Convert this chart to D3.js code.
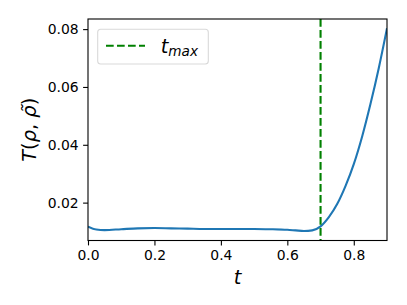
<!DOCTYPE html>
<html>
<head>
<meta charset="UTF-8">
<script src="https://d3js.org/d3.v7.min.js"></script>
<style>
  body { margin: 0; background: #fff; }
  svg { display: block; font-family: "DejaVu Sans", sans-serif; }
</style>
</head>
<body>
<svg width="407" height="305"></svg>
<script>
// values
var tValues = [0, 0.025, 0.05, 0.1, 0.15, 0.2, 0.25, 0.3, 0.35, 0.4, 0.45, 0.5, 0.55, 0.6, 0.625, 0.65, 0.675, 0.7, 0.725, 0.75, 0.775, 0.8, 0.825, 0.85, 0.875, 0.9];
var tScore = [0.0117, 0.0107, 0.0105, 0.0108, 0.0111, 0.0112, 0.0111, 0.0110, 0.0109, 0.0109, 0.0109, 0.0109, 0.0108, 0.0106, 0.0104, 0.0102, 0.0104, 0.0118, 0.0150, 0.0195, 0.0257, 0.0333, 0.0428, 0.0540, 0.0664, 0.0803];
var tMax = 0.7;
var xTicks = [0, 0.2, 0.4, 0.6, 0.8];
var yTicks = [0.02, 0.04, 0.06, 0.08];

var margin = {top: 19, right: 20, bottom: 64.5, left: 88};
var width = 407, height = 305;
var w = width - margin.left - margin.right;
var h = height - margin.top - margin.bottom;

var svg = d3.select("svg");
var g = svg.append("g").attr("transform", "translate(" + margin.left + "," + margin.top + ")");

var x = d3.scaleLinear().domain([0, 0.9]).range([0, w]);
var y = d3.scaleLinear().domain([0.0069, 0.0835]).range([h, 0]);

var pts = tValues.map(function(t, i) { return [t, tScore[i]]; });

g.append("clipPath").attr("id", "clip")
  .append("rect").attr("width", w).attr("height", h);

g.append("path")
  .datum(pts)
  .attr("clip-path", "url(#clip)")
  .attr("fill", "none")
  .attr("stroke", "#1f77b4")
  .attr("stroke-width", 2.1)
  .attr("d", d3.line().x(function(d) { return x(d[0]); }).y(function(d) { return y(d[1]); }).curve(d3.curveMonotoneX));

g.append("line")
  .attr("x1", x(tMax)).attr("x2", x(tMax))
  .attr("y1", 0).attr("y2", h)
  .attr("stroke", "#008000")
  .attr("stroke-width", 2.1)
  .attr("stroke-dasharray", "7.7,3.3");

// axes
var xAxis = d3.axisBottom(x).tickValues(xTicks).tickFormat(d3.format(".1f")).tickSize(4.9).tickPadding(4.5);
var yAxis = d3.axisLeft(y).tickValues(yTicks).tickFormat(d3.format(".2f")).tickSize(4.9).tickPadding(4.5);

var gx = g.append("g").attr("transform", "translate(0," + h + ")").call(xAxis);
var gy = g.append("g").call(yAxis);
[gx, gy].forEach(function(a) {
  a.select(".domain").remove();
  a.selectAll("line").attr("stroke", "#000").attr("stroke-width", 1.1);
  a.selectAll("text").attr("font-size", "13.9px").attr("fill", "#000").attr("font-family", "DejaVu Sans");
});

g.append("rect")
  .attr("width", w).attr("height", h)
  .attr("fill", "none").attr("stroke", "#000").attr("stroke-width", 1.1);

// axis labels
svg.append("text")
  .attr("x", margin.left + w / 2).attr("y", 284)
  .attr("text-anchor", "middle")
  .attr("font-size", "19.4px")
  .attr("font-style", "italic")
  .text("t");

var yl = svg.append("text")
  .attr("transform", "translate(36," + (margin.top + h / 2) + ") rotate(-90)")
  .attr("text-anchor", "middle")
  .attr("font-size", "19.4px");
yl.append("tspan").attr("font-style", "italic").text("T");
yl.append("tspan").text("(");
yl.append("tspan").attr("font-style", "italic").text("ρ");
yl.append("tspan").text(", ");
yl.append("tspan").attr("font-style", "italic").text("ρ\u0303");
yl.append("tspan").text(")");

// legend
var lg = svg.append("g").attr("transform", "translate(97.7,29.3)");
lg.append("rect")
  .attr("width", 110.6).attr("height", 34.7)
  .attr("rx", 3).attr("ry", 3)
  .attr("fill", "#fff").attr("fill-opacity", 0.8)
  .attr("stroke", "#d9d9d9").attr("stroke-width", 1.1);
lg.append("line")
  .attr("x1", 8.3).attr("x2", 47.3)
  .attr("y1", 16.4).attr("y2", 16.4)
  .attr("stroke", "#008000").attr("stroke-width", 2.1)
  .attr("stroke-dasharray", "7.7,3.3");
var lt = lg.append("text").attr("x", 63).attr("y", 23.5).attr("font-size", "19.4px").attr("font-style", "italic");
lt.append("tspan").text("t");
lt.append("tspan").attr("font-size", "13.6px").attr("dy", 3.5).text("max");
</script>
</body>
</html>
